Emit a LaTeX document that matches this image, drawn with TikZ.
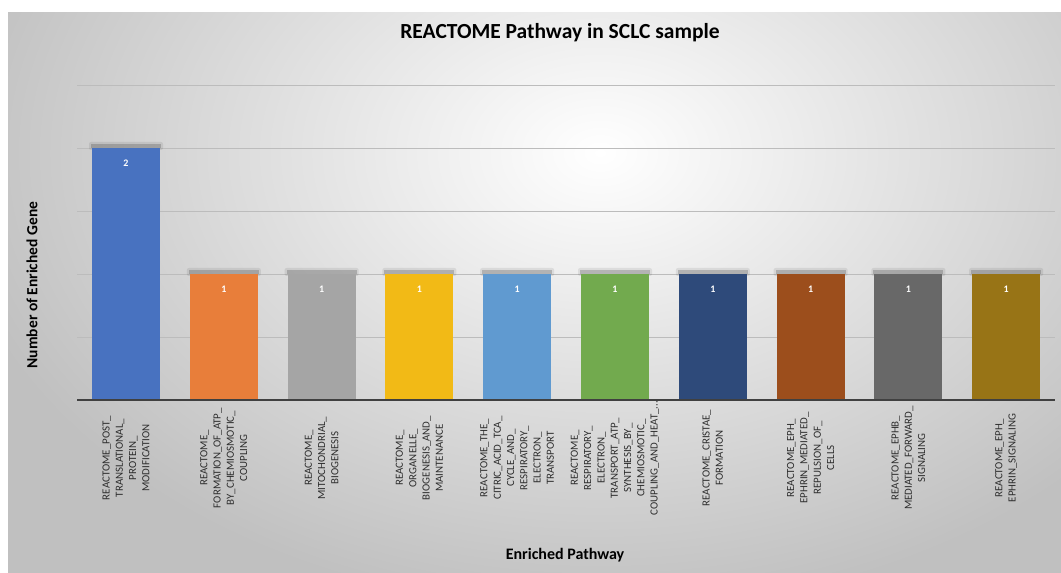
\documentclass[tikz,border=0pt]{standalone}
\usepackage{fontspec}
\setmainfont{Carlito}
\usepackage{tikz}
\usetikzlibrary{positioning}
\definecolor{panelgray}{RGB}{192,192,192}
\definecolor{gridgray}{RGB}{188,188,188}
\definecolor{axisgray}{RGB}{64,64,64}
\definecolor{labelgray}{RGB}{45,45,45}
\definecolor{bluebar}{RGB}{72,114,192}
\definecolor{orangebar}{RGB}{232,126,58}
\definecolor{graybar}{RGB}{165,165,165}
\definecolor{goldbar}{RGB}{242,186,22}
\definecolor{lightbluebar}{RGB}{96,154,208}
\definecolor{greenbar}{RGB}{114,170,78}
\definecolor{navybar}{RGB}{46,74,122}
\definecolor{rustbar}{RGB}{156,78,28}
\definecolor{darkgraybar}{RGB}{104,104,104}
\definecolor{olivebar}{RGB}{152,116,22}

\begin{document}
\begin{tikzpicture}[x=1pt, y=1pt,
    gridline/.style={gridgray, line width=0.9pt},
    vallab/.style={text=white, font=\fontsize{10}{12}\selectfont\bfseries, inner sep=0pt},
    catlab/.style={rotate=90, align=center, text=labelgray, inner sep=0pt,
                   font=\fontsize{10.9}{13.3}\selectfont},
    axtitle/.style={text=black, font=\fontsize{16}{19}\selectfont\bfseries, inner sep=0pt}]

    % ═══════════════════════════════════════════════════════════════════════════
    % FOND
    % ═══════════════════════════════════════════════════════════════════════════

    \useasboundingbox (0,0) rectangle (1061,573);
    \fill[white] (0,0) rectangle (1061,573);
    \begin{scope}
        \clip (8,0) rectangle (1061,560);
        \shade[inner color=white, outer color=panelgray] (-60,-40) rectangle (1260,880);
    \end{scope}

    % ═══════════════════════════════════════════════════════════════════════════
    % GRILLE ET AXE
    % ═══════════════════════════════════════════════════════════════════════════

    \foreach \v in {0.5, 1, 1.5, 2, 2.5} {
        \draw[gridline] (77, {173+126*\v}) -- (1055, {173+126*\v});
    }

    % ═══════════════════════════════════════════════════════════════════════════
    % BARRES
    % ═══════════════════════════════════════════════════════════════════════════

    \foreach \k/\col/\val in {1/bluebar/2, 2/orangebar/1, 3/graybar/1, 4/goldbar/1,
                              5/lightbluebar/1, 6/greenbar/1, 7/navybar/1,
                              8/rustbar/1, 9/darkgraybar/1, 10/olivebar/1} {
        \pgfmathsetmacro{\xl}{92+97.8*(\k-1)}
        \pgfmathsetmacro{\yt}{173+126*\val}
        % ombre (floue)
        \fill[black, opacity=0.08, rounded corners=2] (\xl-3, \yt-2) rectangle (\xl+71, \yt+6);
        \fill[black, opacity=0.18] (\xl-1, \yt) rectangle (\xl+69, \yt+4);
        \fill[\col] (\xl, 173) rectangle (\xl+68, \yt);
        \node[vallab] (val\k) at (\xl+34, \yt-15) {\val};
    }

    \draw[axisgray, line width=2pt] (77,173) -- (1055,173);

    % ═══════════════════════════════════════════════════════════════════════════
    % ÉTIQUETTES
    % ═══════════════════════════════════════════════════════════════════════════

    \foreach \k/\txt in {
        1/{REACTOME\_POST\_\\TRANSLATIONAL\_\\PROTEIN\_\\MODIFICATION},
        2/{REACTOME\_\\FORMATION\_OF\_ATP\_\\BY\_CHEMIOSMOTIC\_\\COUPLING},
        3/{REACTOME\_\\MITOCHONDRIAL\_\\BIOGENESIS},
        4/{REACTOME\_\\ORGANELLE\_\\BIOGENESIS\_AND\_\\MAINTENANCE},
        5/{REACTOME\_THE\_\\CITRIC\_ACID\_TCA\_\\CYCLE\_AND\_\\RESPIRATORY\_\\ELECTRON\_\\TRANSPORT},
        6/{REACTOME\_\\RESPIRATORY\_\\ELECTRON\_\\TRANSPORT\_ATP\_\\SYNTHESIS\_BY\_\\CHEMIOSMOTIC\_\\COUPLING\_AND\_HEAT\_...},
        7/{REACTOME\_CRISTAE\_\\FORMATION},
        8/{REACTOME\_EPH\_\\EPHRIN\_MEDIATED\_\\REPULSION\_OF\_\\CELLS},
        9/{REACTOME\_EPHB\_\\MEDIATED\_FORWARD\_\\SIGNALING},
        10/{REACTOME\_EPH\_\\EPHRIN\_SIGNALING}} {
        \node[catlab] (cat\k) at ({126+97.8*(\k-1)}, 115) {\txt};
    }

    % ═══════════════════════════════════════════════════════════════════════════
    % TITRES
    % ═══════════════════════════════════════════════════════════════════════════

    \node[font=\fontsize{21.5}{26}\selectfont\bfseries, inner sep=0pt] (title) at (560, 540)
        {REACTOME Pathway in SCLC sample};
    \node[axtitle, rotate=90, font=\fontsize{15.5}{18}\selectfont\bfseries] (ytitle) at (32, 288)
        {Number of Enriched Gene};
    \node[axtitle] (xtitle) at (565, 18) {Enriched Pathway};

\end{tikzpicture}
\end{document}
